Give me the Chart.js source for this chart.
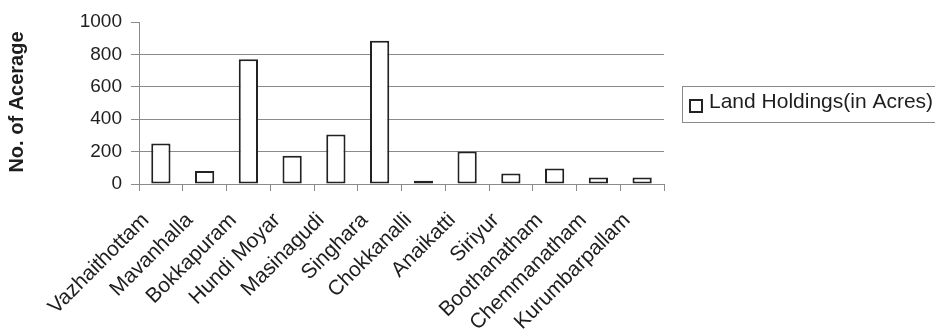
<!DOCTYPE html>
<html>
<head>
<meta charset="utf-8">
<script src="https://cdn.jsdelivr.net/npm/chart.js@4/dist/chart.umd.min.js"></script>
<style>
  html, body { margin: 0; padding: 0; background: #fff; }
  #wrap { width: 935px; height: 329px; overflow: hidden; }
</style>
</head>
<body>
<div id="wrap"><canvas id="c" width="935" height="329"></canvas></div>
<script>
// Villages and their land holdings (acres)
const villages = [
  'Vazhaithottam', 'Mavanhalla', 'Bokkapuram', 'Hundi Moyar', 'Masinagudi',
  'Singhara', 'Chokkanalli', 'Anaikatti', 'Siriyur', 'Boothanatham',
  'Chemmanatham', 'Kurumbarpallam'
];
const landHoldings = [250, 80, 770, 175, 305, 885, 20, 200, 65, 95, 40, 40];
const seriesName = 'Land Holdings(in Acres)';
const yTitle = 'No. of Acerage';
const yMin = 0, yMax = 1000, yStep = 200;

const FONT = "'Liberation Sans', Arial, sans-serif";
const TEXT = '#1e1e1e';
const LINE = '#8a8a8a';

// Y axis title and boxed legend on the right
const decorations = {
  id: 'decorations',
  afterDraw(chart) {
    const ctx = chart.ctx;
    ctx.save();
    // rotated axis title
    ctx.fillStyle = TEXT;
    ctx.font = "bold 20px " + FONT;
    ctx.textAlign = 'center';
    ctx.textBaseline = 'middle';
    ctx.translate(17, 102);
    ctx.rotate(-Math.PI / 2);
    ctx.fillText(yTitle, 0, 0);
    ctx.restore();

    ctx.save();
    // legend frame
    ctx.strokeStyle = LINE;
    ctx.lineWidth = 1;
    ctx.strokeRect(682.5, 86.5, 300, 36);
    // legend swatch
    ctx.fillStyle = '#fff';
    ctx.fillRect(690, 100, 12, 12);
    ctx.strokeStyle = '#222';
    ctx.lineWidth = 2;
    ctx.strokeRect(690, 100, 12, 12);
    // legend text
    ctx.fillStyle = TEXT;
    ctx.font = "21px " + FONT;
    ctx.textAlign = 'left';
    ctx.textBaseline = 'alphabetic';
    ctx.fillText(seriesName, 709, 108);
    ctx.restore();
  }
};

new Chart(document.getElementById('c'), {
  type: 'bar',
  data: {
    labels: villages,
    datasets: [{
      label: seriesName,
      data: landHoldings,
      backgroundColor: '#ffffff',
      borderColor: '#222222',
      borderWidth: 2,
      borderSkipped: false,
      categoryPercentage: 1.0,
      barPercentage: 0.44
    }]
  },
  options: {
    responsive: false,
    animation: false,
    devicePixelRatio: 1,
    layout: { padding: { left: 0, top: 22, right: 271, bottom: 0 } },
    plugins: {
      legend: { display: false },
      tooltip: { enabled: false }
    },
    scales: {
      x: {
        grid: {
          drawOnChartArea: false,
          drawTicks: true,
          tickLength: 7,
          tickColor: LINE,
          offset: true
        },
        border: { color: LINE, width: 1 },
        ticks: {
          font: { family: FONT, size: 21 },
          color: TEXT,
          minRotation: 45,
          maxRotation: 45,
          autoSkip: false,
          padding: 17,
          labelOffset: -15
        },
        afterFit(scale) { scale.height = 145; }
      },
      y: {
        min: yMin,
        max: yMax,
        grid: {
          color: (c) => (c.tick && c.tick.value === yMax) ? 'rgba(0,0,0,0)' : LINE,
          tickColor: LINE,
          tickLength: 8,
          lineWidth: 1
        },
        border: { color: LINE, width: 1 },
        ticks: {
          stepSize: yStep,
          font: { family: FONT, size: 19 },
          color: TEXT,
          padding: 9,
          callback: (v) => String(v)
        },
        afterFit(scale) { scale.width = 139; }
      }
    }
  },
  plugins: [decorations]
});
</script>
</body>
</html>
